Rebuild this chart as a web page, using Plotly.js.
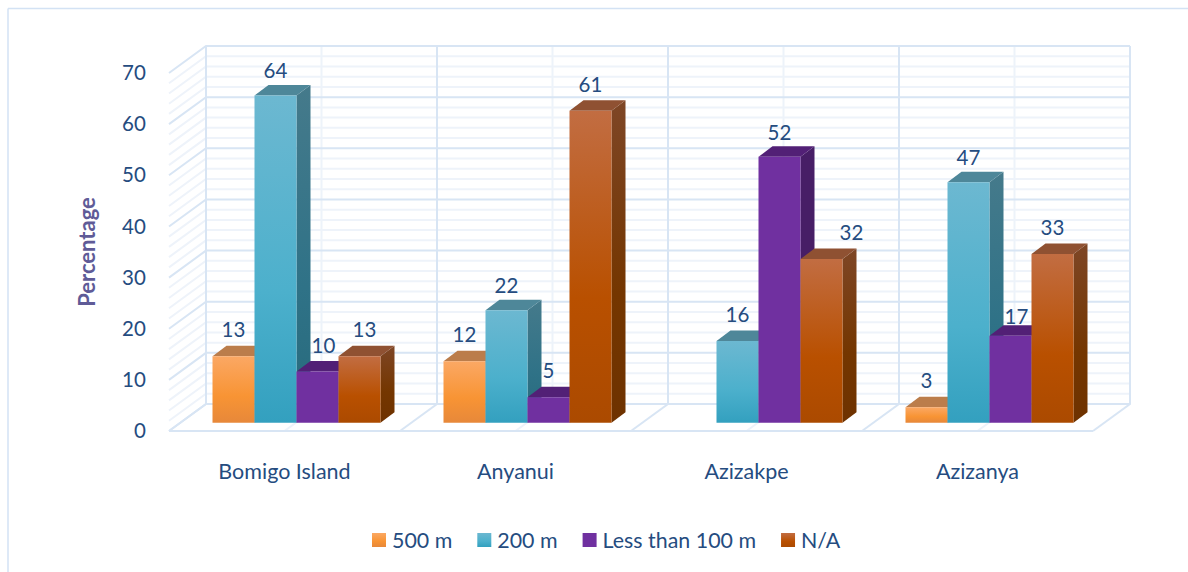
<!DOCTYPE html>
<html>
<head>
<meta charset="utf-8">
<script src="https://cdn.plot.ly/plotly-3.0.1.min.js"></script>
<style>html,body{margin:0;padding:0;background:#fff;overflow:hidden}</style>
</head>
<body>
<div id="chart" style="width:1188px;height:572px"></div>
<script>
// Series values (percentage of respondents per site)
const sites = ['Bomigo Island', 'Anyanui', 'Azizakpe', 'Azizanya'];
const seriesNames = ['500 m', '200 m', 'Less than 100 m', 'N/A'];
const v500 = [13, 12, null, 3];
const v200 = [64, 22, 16, 47];
const vLess100 = [10, 5, 52, 17];
const vNA = [13, 61, 32, 33];
const allValues = [v500, v200, vLess100, vNA];

// Scale of the drawing, in pixels
const pxL = 160, pxR = 1140, pxT = 40, pxB = 436;
const perCat = 231, perPct = 5.114;
const originX = 284.5, originY = 431;            // front edge of the floor
const barShiftX = 12, barShiftY = 8.3;           // bars stand a little behind the front edge
const wallDX = 37 / perCat, wallDY = 27 / perPct; // depth of the box
const barDX = 14 / perCat, barDY = 10.5 / perPct; // depth of one bar
const barW = 42 / perCat;

const xRange = [(pxL - originX) / perCat, (pxR - originX) / perCat];
const yRange = [(originY - pxB) / perPct, (originY - pxT) / perPct];
const sx = barShiftX / perCat, sy = barShiftY / perPct;

// Hand-placed data labels: pixel nudges per [series, site]
const labelNudge = {
  '2,0': [6, 0], '3,0': [5, 0], '3,2': [30, 0], '2,3': [6, 7],
  '1,0': [0, 1], '1,1': [0, 2], '2,2': [0, 2], '1,3': [0, 2]
};

// Colours per series: top face, side gradient, front gradient
const topColors = ['#bb7d4b', '#4e8799', '#522076', '#8f5132'];
const gradients = {
  front0: ['#fba864', '#f89434', '#e7883a'],
  front1: ['#6cb8d1', '#4cb0cc', '#33a0bf'],
  front2: ['#7030a0', '#7030a0', '#7030a0'],
  front3: ['#c26d42', '#b95000', '#ab4a00'],
  side0: ['#a96f40', '#a4601f', '#8f5a2a'],
  side1: ['#457a8b', '#2f7287', '#276a7c'],
  side2: ['#471e66', '#471e66', '#471e66'],
  side3: ['#7e4626', '#743600', '#6e3200']
};

const traces = [];

// Box walls and floor
function gridLines(step, skip) {
  const xs = [], ys = [];
  for (let v = 0; v <= 70; v += step) {
    if (skip && v % skip === 0) continue;
    xs.push(-0.5, -0.5 + wallDX, 3.5 + wallDX, null);
    ys.push(v, v + wallDY, v + wallDY, null);
  }
  return [xs, ys];
}
function depthLines(offset) {
  const xs = [], ys = [];
  for (let c = 0; c <= 4; c++) {
    if (offset && c === 4) continue;
    const p = c - 0.5 + offset;
    xs.push(p, p + wallDX, p + wallDX, null);
    ys.push(0, wallDY, 70 + wallDY, null);
  }
  return [xs, ys];
}
function wallTrace(pair, color, width) {
  return {x: pair[0], y: pair[1], mode: 'lines', line: {color, width}, hoverinfo: 'skip', showlegend: false};
}
traces.push(wallTrace(gridLines(2, 10), '#eef3fa', 2));
traces.push(wallTrace(depthLines(0.5), '#edf3fa', 2));
traces.push(wallTrace(gridLines(10), '#d8e5f4', 2));
traces.push(wallTrace(depthLines(0), '#d8e5f4', 2));
traces.push(wallTrace([[-0.5, 3.5], [0, 0]], '#d8e5f4', 2));

// Side and top faces, drawn left to right so nearer faces cover earlier ones
const px = (c, i) => c + sx + (i - 2) * barW;
sites.forEach((_, c) => {
  allValues.forEach((vals, i) => {
    const v = vals[c];
    if (v === null) return;
    const x0 = px(c, i), x1 = x0 + barW, top = v + sy;
    traces.push({
      x: [x1, x1 + barDX, x1 + barDX, x1, x1],
      y: [sy, sy + barDY, top + barDY, top, sy],
      mode: 'lines', fill: 'toself', fillcolor: gradients['side' + i][1],
      line: {width: 0}, hoverinfo: 'skip', showlegend: false, meta: 'side' + i
    });
    traces.push({
      x: [x0, x1, x1 + barDX, x0 + barDX, x0],
      y: [top, top, top + barDY, top + barDY, top],
      mode: 'lines', fill: 'toself', fillcolor: topColors[i],
      line: {width: 0}, hoverinfo: 'skip', showlegend: false
    });
  });
});

// Front faces
allValues.forEach((vals, i) => {
  traces.push({
    type: 'bar', name: seriesNames[i], x: sites.map((_, c) => c), y: vals,
    xaxis: 'x2', yaxis: 'y2', marker: {color: gradients['front' + i][1], line: {width: 0}},
    hoverinfo: 'y'
  });
});

// Data labels
const lx = [], ly = [], lt = [];
allValues.forEach((vals, i) => vals.forEach((v, c) => {
  if (v === null) return;
  const n = labelNudge[i + ',' + c] || [0, 0];
  lx.push(c + (i - 1.5) * barW + n[0] / perCat);
  ly.push(v + (24 - n[1]) / perPct);
  lt.push(String(v));
}));
traces.push({
  x: lx, y: ly, text: lt, mode: 'text', xaxis: 'x2', yaxis: 'y2', textposition: 'middle center',
  textfont: {family: 'Lato', size: 20.5, color: '#254c7f'}, hoverinfo: 'skip', showlegend: false
});

const fontMain = {family: 'Lato', size: 20.5, color: '#254c7f'};
const W = pxR - pxL, H = pxB - pxT;
const layout = {
  width: 1188, height: 572, paper_bgcolor: '#fff', plot_bgcolor: 'rgba(0,0,0,0)',
  margin: {l: pxL, r: 1188 - pxR, t: pxT, b: 572 - pxB, pad: 0},
  barmode: 'group', bargap: 1 - 4 * barW, bargroupgap: 0,
  showlegend: true,
  legend: {
    orientation: 'h', xanchor: 'left', yanchor: 'middle',
    x: (359 - pxL) / W, y: (pxB - 540) / H,
    font: {family: 'Lato', size: 21.4, color: '#254c7f'}, bgcolor: 'rgba(0,0,0,0)',
    itemclick: false, itemdoubleclick: false
  },
  xaxis: {
    range: xRange, tickmode: 'array', tickvals: sites.map((_, c) => c), ticktext: sites,
    showgrid: false, zeroline: false, showline: false, ticks: 'outside', ticklen: 16,
    tickcolor: 'rgba(0,0,0,0)', tickfont: {family: 'Lato', size: 21.5, color: '#254c7f'}
  },
  yaxis: {
    range: yRange, tickmode: 'array', tickvals: [0, 10, 20, 30, 40, 50, 60, 70],
    showgrid: false, zeroline: false, showline: false, ticks: 'outside', ticklen: 9,
    tickcolor: 'rgba(0,0,0,0)', tickfont: fontMain,
    title: {text: '<b>Percentage</b>', font: {family: 'Lato', size: 22, color: '#5f5b97'}, standoff: 18}
  },
  xaxis2: {overlaying: 'x', range: [xRange[0] - sx, xRange[1] - sx], visible: false},
  yaxis2: {overlaying: 'y', range: [yRange[0] - sy, yRange[1] - sy], visible: false},
  shapes: [
    {type: 'line', xref: 'paper', yref: 'paper', layer: 'below',
      x0: (8 - pxL) / W, x1: (8 - pxL) / W, y0: (pxB - 8.5) / H, y1: (pxB - 580) / H,
      line: {color: '#d3e2f4', width: 1.5}},
    {type: 'line', xref: 'paper', yref: 'paper', layer: 'below',
      x0: (8 - pxL) / W, x1: (1200 - pxL) / W, y0: (pxB - 8.5) / H, y1: (pxB - 8.5) / H,
      line: {color: '#d3e2f4', width: 1.5}}
  ]
};

const gd = document.getElementById('chart');
Plotly.newPlot(gd, traces, layout, {displayModeBar: false, staticPlot: false}).then(() => {
  // Vertical shading on the bar faces
  const defs = gd.querySelector('svg.main-svg defs') ||
    gd.querySelector('svg.main-svg').appendChild(document.createElementNS('http://www.w3.org/2000/svg', 'defs'));
  const ns = 'http://www.w3.org/2000/svg';
  Object.keys(gradients).forEach(id => {
    const g = document.createElementNS(ns, 'linearGradient');
    g.setAttribute('id', 'grad-' + id);
    g.setAttribute('x1', '0'); g.setAttribute('y1', '0');
    g.setAttribute('x2', '0'); g.setAttribute('y2', '1');
    [0, 0.6, 1].forEach((o, k) => {
      const s = document.createElementNS(ns, 'stop');
      s.setAttribute('offset', o);
      s.setAttribute('stop-color', gradients[id][k]);
      g.appendChild(s);
    });
    defs.appendChild(g);
  });
  gd.querySelectorAll('.barlayer .trace').forEach(el => {
    const i = seriesNames.indexOf(el.__data__[0].trace.name);
    el.querySelectorAll('path').forEach(p => { p.style.fill = 'url(#grad-front' + i + ')'; });
  });
  gd.querySelectorAll('.scatterlayer .trace').forEach(el => {
    const t = el.__data__ && el.__data__[0] && el.__data__[0].trace;
    const fill = el.querySelector('.js-fill');
    if (t && t.meta && fill) fill.style.fill = 'url(#grad-' + t.meta + ')';
  });
  // Legend swatches: slightly larger, shaded, closer to their text
  gd.querySelectorAll('.legend .traces').forEach((el, i) => {
    const sw = el.querySelector('.legendpoints path');
    if (sw) {
      sw.setAttribute('d', 'M7,7H-7V-7H7Z');
      sw.style.fill = 'url(#grad-front' + i + ')';
    }
    const txt = el.querySelector('.legendtext');
    if (txt) txt.setAttribute('x', +txt.getAttribute('x') - 7);
  });
  // The axis title sits centred on the wall, lower than the plot area's middle
  const yTitle = gd.querySelector('.ytitle');
  if (yTitle) yTitle.setAttribute('transform', 'translate(-2,14) ' + (yTitle.getAttribute('transform') || ''));
});
</script>
</body>
</html>
